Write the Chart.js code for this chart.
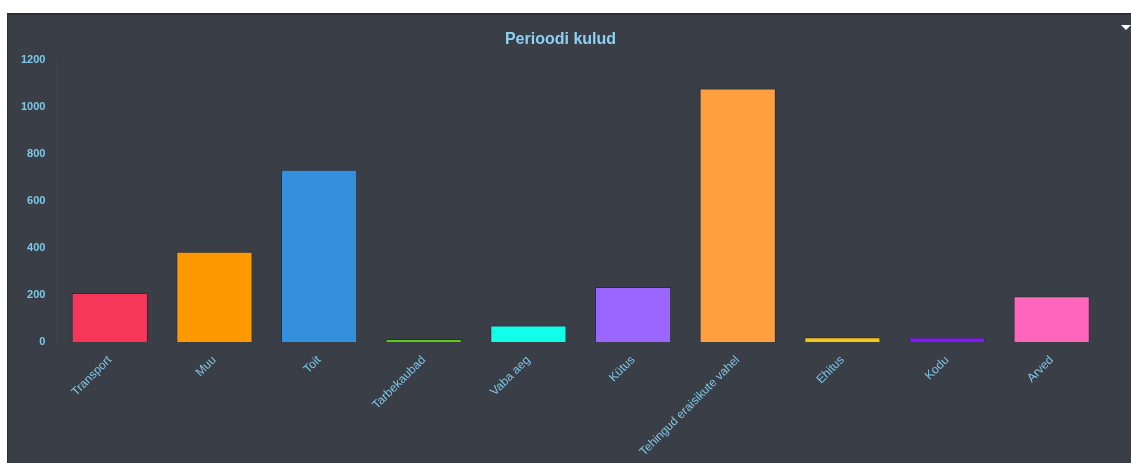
<!DOCTYPE html>
<html>
<head>
<meta charset="utf-8">
<script src="https://cdn.jsdelivr.net/npm/chart.js@4.4.0/dist/chart.umd.min.js"></script>
<style>
    html, body { margin: 0; padding: 0; background: #ffffff; }
    .panel {
        position: absolute;
        left: 7px;
        top: 13px;
        width: 1124px;
        height: 450px;
        background: #3a3e47;
        border-top: 2px solid #2b2e35;
        border-left: 1px solid #2b2e35;
        box-sizing: border-box;
    }
    .arrow {
        position: absolute;
        right: 0;
        top: 10px;
        width: 0;
        height: 0;
        border-left: 5px solid transparent;
        border-right: 5px solid transparent;
        border-top: 5px solid #ffffff;
    }
    canvas { display: block; }
</style>
</head>
<body>
<div class="panel">
    <canvas id="expense-chart" width="1123" height="448"></canvas>
    <div class="arrow"></div>
</div>
<script>
    const categories = ["Transport", "Muu", "Toit", "Tarbekaubad", "Vaba aeg", "Kütus",
        "Tehingud eraisikute vahel", "Ehitus", "Kodu", "Arved"];
    const amounts = [209, 384, 734, 13, 71, 234, 1079, 20, 19, 195];
    const barColors = ["#f7375a", "#ff9900", "#368fdd", "#5ccc1a", "#11ffe8",
        "#9b66ff", "#ff9f40", "#f5c518", "#8811ff", "#ff66bb"];
    const yTicks = [0, 200, 400, 600, 800, 1000, 1200];

    const labelColor = '#7fc6e6';
    const fontFamily = 'Liberation Sans, Arial, sans-serif';

    const chartConfig = {
        type: 'bar',
        data: {
            labels: categories,
            datasets: [{
                data: amounts,
                backgroundColor: barColors,
                borderColor: 'rgba(0, 0, 0, 0.25)',
                borderWidth: 1,
                categoryPercentage: 0.8,
                barPercentage: 0.91
            }]
        },
        options: {
            responsive: false,
            animation: false,
            layout: {
                padding: { left: 9, right: 27, top: 5, bottom: 1 }
            },
            plugins: {
                legend: { display: false },
                tooltip: { enabled: false },
                title: {
                    display: true,
                    text: 'Perioodi kulud',
                    color: '#8dd2f4',
                    font: { size: 16, weight: 'bold', family: fontFamily },
                    padding: { top: 10, bottom: 11 }
                }
            },
            scales: {
                x: {
                    grid: { display: false },
                    border: { display: false },
                    ticks: {
                        color: labelColor,
                        maxRotation: 45,
                        minRotation: 45,
                        autoSkip: false,
                        font: { size: 12, family: fontFamily }
                    }
                },
                y: {
                    min: 0,
                    max: yTicks[yTicks.length - 1],
                    afterBuildTicks: (axis) => {
                        axis.ticks = yTicks.map(v => ({ value: v }));
                    },
                    grid: { display: false },
                    border: { display: true, color: 'rgba(255, 255, 255, 0.04)' },
                    ticks: {
                        color: labelColor,
                        padding: 4,
                        callback: (value) => String(value),
                        font: { size: 11, weight: 'bold', family: fontFamily }
                    }
                }
            }
        }
    };

    new Chart('expense-chart', chartConfig);
</script>
</body>
</html>
